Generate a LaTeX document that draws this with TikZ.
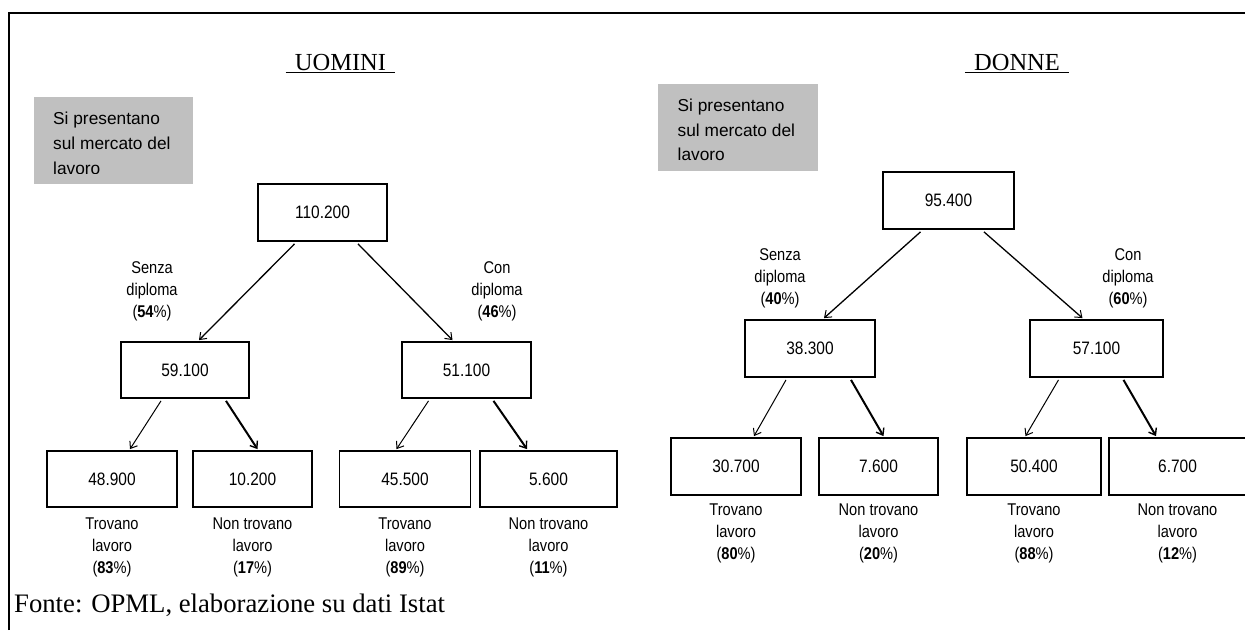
\documentclass[tikz,border=0pt]{standalone}
\usepackage{fontspec}
\setmainfont{Liberation Serif}
\newfontfamily\nsans[FakeStretch=0.86]{Liberation Sans}
\newfontfamily\wsans{Liberation Sans}
\usetikzlibrary{arrows.meta}
\definecolor{boxgray}{RGB}{192,192,192}
\begin{document}
\begin{tikzpicture}[x=1pt,y=-1pt,
  box/.style={draw,line width=1.8pt,inner sep=0pt,font=\nsans\fontsize{18}{20}\selectfont},
  lbl/.style={align=center,inner sep=0pt,anchor=north,font=\nsans\fontsize{17}{22}\selectfont},
  ttl/.style={anchor=base,inner xsep=9pt,inner ysep=0pt,font=\fontsize{24.5}{28}\selectfont},
  grayfill/.style={fill=boxgray,draw=none,inner sep=0pt},
  graytext/.style={anchor=north west,align=left,inner sep=0pt,font=\wsans\fontsize{17.3}{25}\selectfont},
  arrtop/.style={line width=1.3pt,-{Straight Barb[length=6pt,width=9pt,line width=1pt]}},
  arrthin/.style={line width=1pt,-{Straight Barb[length=6pt,width=9pt,line width=1pt]}},
  arrthick/.style={line width=2pt,-{Straight Barb[length=6pt,width=9pt,line width=1.4pt]}},
  frame/.style={line width=2pt}
]
\useasboundingbox (0,0) rectangle (1245,630);
\clip (0,0) rectangle (1245,630);
\fill[white] (0,0) rectangle (1245,630);

% frame
\draw[frame] (9,630) -- (9,13) -- (1246,13);

% titles
\node[ttl] (uom) at (340.5,70) {UOMINI};
\draw[line width=1.3pt] ([yshift=-2.5pt]uom.base west) -- ([yshift=-2.5pt]uom.base east);
\node[ttl] (don) at (1017,70) {DONNE};
\draw[line width=1.3pt] ([yshift=-2.5pt]don.base west) -- ([yshift=-2.5pt]don.base east);

% gray boxes
\node[grayfill,minimum width=159pt,minimum height=87pt] (g1) at (113.5,140.5) {};
\begin{scope}
  \clip (34,97) rectangle (193,173.5);
  \node[graytext] (g1t) at (53,107) {\strut Si presentano\\sul mercato del\\lavoro};
\end{scope}
\node[grayfill,minimum width=160pt,minimum height=87pt] (g2) at (738,127.5) {};
\begin{scope}
  \clip (658,84) rectangle (818,160.5);
  \node[graytext,font=\wsans\fontsize{17.3}{24.5}\selectfont] (g2t) at (677.5,94.5) {\strut Si presentano\\sul mercato del\\lavoro};
\end{scope}

% ---------- UOMINI tree ----------
\node[box,minimum width=129pt,minimum height=57pt] (m0) at (322.5,212.5) {110.200};
\node[box,minimum width=128pt,minimum height=56pt] (m1) at (185,370) {59.100};
\node[box,minimum width=129pt,minimum height=56pt] (m2) at (466.5,370) {51.100};
\node[box,minimum width=130pt,minimum height=56pt] (m11) at (112,479) {48.900};
\node[box,minimum width=119pt,minimum height=56pt] (m12) at (252.5,479) {10.200};
\node[box,minimum width=131pt,minimum height=56pt] (m21) at (405,479) {45.500};
\node[box,minimum width=137pt,minimum height=56pt] (m22) at (548.5,479) {5.600};

\node[lbl] (lm1) at (152,257.6) {\strut Senza\\diploma\\(\textbf{54}\%)};
\node[lbl] (lm2) at (497,257.6) {\strut Con\\diploma\\(\textbf{46}\%)};
\node[lbl] (lm11) at (112,513.6) {\strut Trovano\\lavoro\\(\textbf{83}\%)};
\node[lbl] (lm12) at (252.5,513.6) {\strut Non trovano\\lavoro\\(\textbf{17}\%)};
\node[lbl] (lm21) at (405,513.6) {\strut Trovano\\lavoro\\(\textbf{89}\%)};
\node[lbl] (lm22) at (548.5,513.6) {\strut Non trovano\\lavoro\\(\textbf{11}\%)};

\draw[arrtop] ([xshift=-28pt,yshift=-2pt]m0.south) -- ([xshift=14pt,yshift=1pt]m1.north);
\draw[arrtop] ([xshift=35.5pt,yshift=-2pt]m0.south) -- ([xshift=-14pt,yshift=1pt]m2.north);
\draw[arrthin] ([xshift=-24pt,yshift=-2pt]m1.south) -- ([xshift=18pt,yshift=1pt]m11.north);
\draw[arrthick] ([xshift=41pt,yshift=-2pt]m1.south) -- ([xshift=5pt,yshift=1pt]m12.north);
\draw[arrthin] ([xshift=-38pt,yshift=-2pt]m2.south) -- ([xshift=-8.5pt,yshift=1pt]m21.north);
\draw[arrthick] ([xshift=27pt,yshift=-2pt]m2.south) -- ([xshift=-21.5pt,yshift=1pt]m22.north);

% ---------- DONNE tree ----------
\node[box,minimum width=131pt,minimum height=57pt] (f0) at (948.5,200.5) {95.400};
\node[box,minimum width=130pt,minimum height=57pt] (f1) at (810,348.5) {38.300};
\node[box,minimum width=133pt,minimum height=57pt] (f2) at (1096.5,348.5) {57.100};
\node[box,minimum width=130pt,minimum height=57pt] (f11) at (736,466.5) {30.700};
\node[box,minimum width=119pt,minimum height=57pt] (f12) at (878.5,466.5) {7.600};
\node[box,minimum width=134pt,minimum height=57pt] (f21) at (1034,466.5) {50.400};
\node[box,minimum width=137pt,minimum height=57pt] (f22) at (1177.5,466.5) {6.700};

\node[lbl] (lf1) at (780,245.1) {\strut Senza\\diploma\\(\textbf{40}\%)};
\node[lbl] (lf2) at (1128,245.1) {\strut Con\\diploma\\(\textbf{60}\%)};
\node[lbl] (lf11) at (736,499.6) {\strut Trovano\\lavoro\\(\textbf{80}\%)};
\node[lbl] (lf12) at (878.5,499.6) {\strut Non trovano\\lavoro\\(\textbf{20}\%)};
\node[lbl] (lf21) at (1034,499.6) {\strut Trovano\\lavoro\\(\textbf{88}\%)};
\node[lbl] (lf22) at (1177.5,499.6) {\strut Non trovano\\lavoro\\(\textbf{12}\%)};

\draw[arrtop] ([xshift=-28pt,yshift=-2pt]f0.south) -- ([xshift=14pt,yshift=1pt]f1.north);
\draw[arrtop] ([xshift=35.5pt,yshift=-2pt]f0.south) -- ([xshift=-14pt,yshift=1pt]f2.north);
\draw[arrthin] ([xshift=-24pt,yshift=-2pt]f1.south) -- ([xshift=18pt,yshift=1pt]f11.north);
\draw[arrthick] ([xshift=41pt,yshift=-2pt]f1.south) -- ([xshift=5pt,yshift=1pt]f12.north);
\draw[arrthin] ([xshift=-38pt,yshift=-2pt]f2.south) -- ([xshift=-8.5pt,yshift=1pt]f21.north);
\draw[arrthick] ([xshift=27pt,yshift=-2pt]f2.south) -- ([xshift=-21.5pt,yshift=1pt]f22.north);

% source
\node[anchor=base west,inner sep=0pt,font=\fontsize{26.7}{30}\selectfont] (src) at (14,612) {Fonte: OPML, elaborazione su dati Istat};
\end{tikzpicture}
\end{document}
